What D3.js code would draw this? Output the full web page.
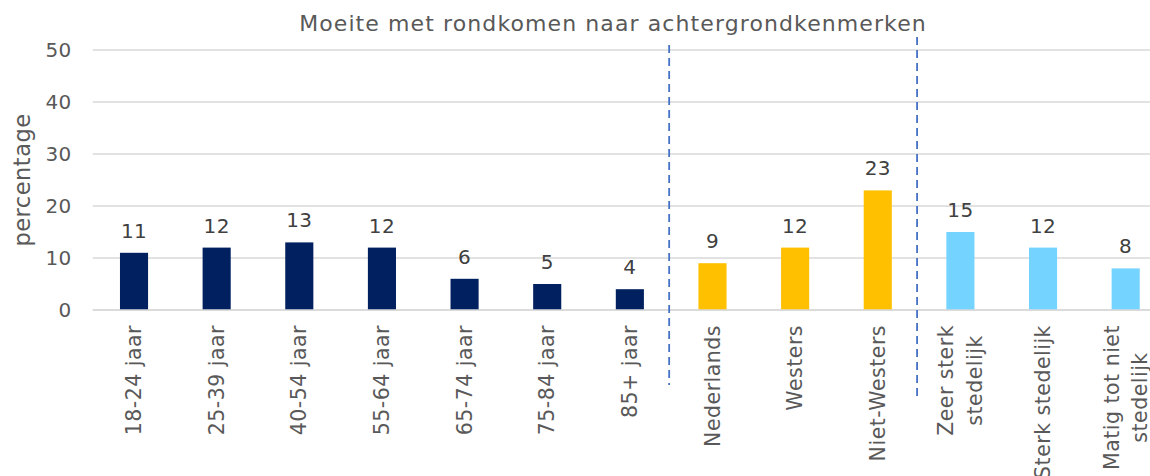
<!DOCTYPE html>
<html>
<head>
<meta charset="utf-8">
<script src="https://cdn.jsdelivr.net/npm/d3@7/dist/d3.min.js"></script>
<style>
  html, body { margin: 0; padding: 0; background: #ffffff; }
  svg { display: block; font-family: "DejaVu Sans", Verdana, sans-serif; }
</style>
</head>
<body>
<svg id="chart" width="1150" height="476"></svg>
<script>
// ---- data ----
const categories = [
  ["18-24 jaar"], ["25-39 jaar"], ["40-54 jaar"], ["55-64 jaar"], ["65-74 jaar"],
  ["75-84 jaar"], ["85+ jaar"], ["Nederlands"], ["Westers"], ["Niet-Westers"],
  ["Zeer sterk", "stedelijk"], ["Sterk stedelijk"], ["Matig tot niet", "stedelijk"]
];
const values = [11, 12, 13, 12, 6, 5, 4, 9, 12, 23, 15, 12, 8];
const groups = ["leeftijd", "leeftijd", "leeftijd", "leeftijd", "leeftijd", "leeftijd", "leeftijd",
                "herkomst", "herkomst", "herkomst", "stedelijkheid", "stedelijkheid", "stedelijkheid"];
const groupNames = ["leeftijd", "herkomst", "stedelijkheid"];
const groupColors = ["#002060", "#FFC000", "#75D3FF"];
const yTicks = [0, 10, 20, 30, 40, 50];
const separatorsAfter = [6, 9]; // index of last category before separator
const title = "Moeite met rondkomen naar achtergrondkenmerken";
const yTitle = "percentage";

// ---- layout ----
const svg = d3.select("#chart");
const plot = { left: 92.7, right: 1167, top: 50, bottom: 310 };

const x = d3.scaleBand()
  .domain(d3.range(categories.length))
  .range([plot.left, plot.right])
  .paddingInner(0.66)
  .paddingOuter(0.33);
const y = d3.scaleLinear().domain([0, 50]).range([plot.bottom, plot.top]);
const color = d3.scaleOrdinal().domain(groupNames).range(groupColors);

// gridlines
svg.append("g").selectAll("line").data(yTicks).join("line")
  .attr("x1", plot.left).attr("x2", 1150)
  .attr("y1", d => y(d)).attr("y2", d => y(d))
  .attr("stroke", "#D9D9D9").attr("stroke-width", 1.5);

// y axis tick labels
const yAxis = d3.axisLeft(y).tickValues(yTicks).tickSize(0).tickPadding(21);
const ya = svg.append("g").attr("transform", `translate(${plot.left},0)`).call(yAxis);
ya.select(".domain").remove();
ya.selectAll("text").attr("font-size", 20).attr("fill", "#595959")
  .attr("font-family", "DejaVu Sans, Verdana, sans-serif")
  .attr("letter-spacing", 0.4);

// y axis title
svg.append("text")
  .attr("transform", `translate(29.5, ${(plot.top + plot.bottom) / 2}) rotate(-90)`)
  .attr("text-anchor", "middle")
  .attr("font-size", 22.5).attr("fill", "#595959")
  .attr("letter-spacing", 0.5)
  .text(yTitle);

// title
svg.append("text")
  .attr("x", 613).attr("y", 31)
  .attr("text-anchor", "middle")
  .attr("font-size", 22).attr("fill", "#595959")
  .attr("letter-spacing", 1.1)
  .text(title);

// bars
svg.append("g").selectAll("rect").data(values).join("rect")
  .attr("x", (d, i) => x(i))
  .attr("width", x.bandwidth())
  .attr("y", d => y(d))
  .attr("height", d => y(0) - y(d))
  .attr("fill", (d, i) => color(groups[i]));

// value labels
svg.append("g").selectAll("text").data(values).join("text")
  .attr("x", (d, i) => x(i) + x.bandwidth() / 2)
  .attr("y", d => y(d) - 15)
  .attr("text-anchor", "middle")
  .attr("font-size", 20).attr("fill", "#404040")
  .attr("letter-spacing", 0.4)
  .text(d => d);

// x category labels (rotated, multi-line centred)
const labelTop = 325;
const lineGap = 28.5;
categories.forEach((lines, i) => {
  const cx = x(i) + x.bandwidth() / 2;
  const g = svg.append("g");
  const texts = lines.map((ln, j) => g.append("text")
    .attr("font-size", 20.5).attr("fill", "#595959")
    .attr("letter-spacing", 0.5)
    .attr("text-anchor", "middle")
    .text(ln));
  const maxW = d3.max(texts, t => t.node().getComputedTextLength());
  const cy = labelTop + maxW / 2;
  texts.forEach((t, j) => {
    const off = (j - (lines.length - 1) / 2) * lineGap;
    t.attr("transform", `translate(${cx + off}, ${cy}) rotate(-90)`)
     .attr("dy", "0.35em");
  });
});

// x axis line
svg.append("line")
  .attr("x1", plot.left).attr("x2", 1150)
  .attr("y1", y(0)).attr("y2", y(0))
  .attr("stroke", "#D9D9D9").attr("stroke-width", 1.5);

// dashed separators
const sepTops = [45, 37];
const sepBottoms = [385, 401];
svg.append("g").selectAll("line").data(separatorsAfter).join("line")
  .attr("x1", d => (x(d) + x.bandwidth() + x(d + 1)) / 2 - 2)
  .attr("x2", d => (x(d) + x.bandwidth() + x(d + 1)) / 2 - 2)
  .attr("y1", (d, i) => sepTops[i])
  .attr("y2", (d, i) => sepBottoms[i])
  .attr("stroke", "#4472C4").attr("stroke-width", 1.8)
  .attr("stroke-dasharray", "8,5");
</script>
</body>
</html>
